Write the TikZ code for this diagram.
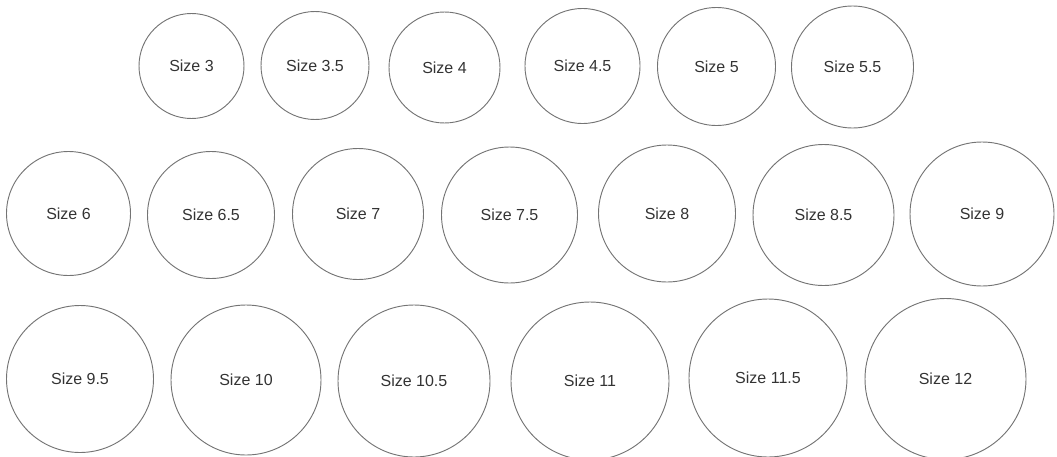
\documentclass[tikz,border=0pt]{standalone}
\usepackage{fontspec}
\setmainfont{Liberation Sans}
\usepackage{xcolor}
\definecolor{ringGris}{HTML}{747474}
\definecolor{textoGris}{HTML}{333333}
\usepackage{tikz}
\usetikzlibrary{positioning}

\begin{document}
\begin{tikzpicture}[x=0.75pt,y=-0.75pt,
 ring/.style={circle,draw=ringGris,line width=0.7pt,inner sep=0pt,
 minimum size={#1*1.5pt},text=textoGris,font=\fontsize{12}{14}\selectfont}]
 \useasboundingbox (0,0) rectangle (1057,457);
 % first row
 \node[ring=52.5] (s3) at (191.5,66) {Size 3};
 \node[ring=54] (s35) at (315,65.5) {Size 3.5};
 \node[ring=55.5] (s4) at (444.5,67.5) {Size 4};
 \node[ring=57.5] (s45) at (582.5,66) {Size 4.5};
 \node[ring=59] (s5) at (716.5,66.5) {Size 5};
 \node[ring=61] (s55) at (852.5,67) {Size 5.5};
 % second row
 \node[ring=62] (s6) at (68.5,213.5) {Size 6};
 \node[ring=63.5] (s65) at (211,215) {Size 6.5};
 \node[ring=65.5] (s7) at (358,214) {Size 7};
 \node[ring=68] (s75) at (509.5,215) {Size 7.5};
 \node[ring=68.5] (s8) at (667,213.5) {Size 8};
 \node[ring=70.5] (s85) at (823.5,215) {Size 8.5};
 \node[ring=72] (s9) at (982,214) {Size 9};
 % third row
 \node[ring=73.5] (s95) at (80,379) {Size 9.5};
 \node[ring=75] (s10) at (246,380) {Size 10};
 \node[ring=76] (s105) at (414,381) {Size 10.5};
 \node[ring=79] (s11) at (590,381) {Size 11};
 \node[ring=79] (s115) at (768,378) {Size 11.5};
 \node[ring=80.5] (s12) at (945.5,379) {Size 12};
\end{tikzpicture}
\end{document}
